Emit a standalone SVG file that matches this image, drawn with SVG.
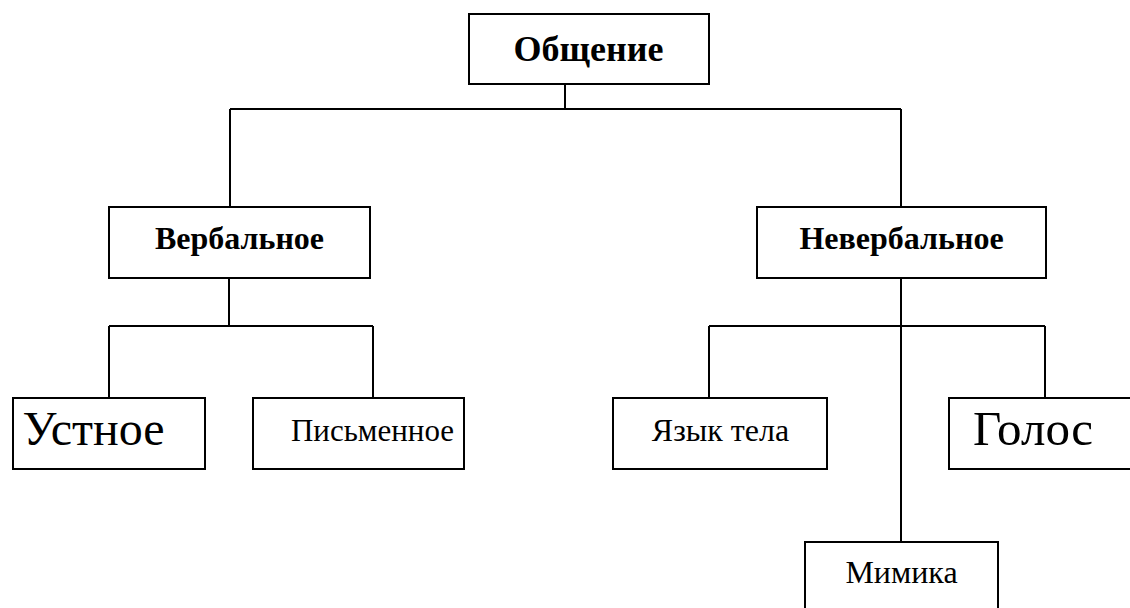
<svg xmlns="http://www.w3.org/2000/svg" width="1130" height="608" viewBox="0 0 1130 608">
<style>
.box{fill:#fff;stroke:#000;stroke-width:2}
.ln{fill:none;stroke:#000;stroke-width:2}
text{font-family:"Liberation Serif","Times New Roman",serif;fill:#000;text-anchor:middle}
.b{font-weight:bold}
</style>
<rect width="1130" height="608" fill="#fff"/>
<g id="connectors">
<path class="ln" d="M565 84V109M230 109H901M230 109V207M901 109V207"/>
<path class="ln" d="M229 278V326M109 326H373M109 326V398M373 326V398"/>
<path class="ln" d="M901 278V542M709 326H1045M709 326V398M1045 326V398"/>
</g>
<g id="n-obshchenie"><rect class="box" x="469" y="14" width="240" height="70"/><text class="b" x="588.5" y="61" font-size="36">Общение</text></g>
<g id="n-verbal"><rect class="box" x="109" y="207" width="261" height="71"/><text class="b" x="239.5" y="249" font-size="32">Вербальное</text></g>
<g id="n-neverbal"><rect class="box" x="757" y="207" width="289" height="71"/><text class="b" x="901.5" y="249" font-size="32">Невербальное</text></g>
<g id="n-ustnoe"><rect class="box" x="13" y="398" width="192" height="71"/><text x="93.5" y="445" font-size="48">Устное</text></g>
<g id="n-pismennoe"><rect class="box" x="253" y="398" width="211" height="71"/><text x="372.5" y="441" font-size="31">Письменное</text></g>
<g id="n-yazyk"><rect class="box" x="613" y="398" width="214" height="71"/><text x="720.5" y="441" font-size="32">Язык тела</text></g>
<g id="n-golos"><rect class="box" x="949" y="398" width="200" height="71"/><text x="1033" y="445" font-size="49">Голос</text></g>
<g id="n-mimika"><rect class="box" x="805" y="542" width="193" height="80"/><text x="901.5" y="583" font-size="32">Мимика</text></g>
</svg>
